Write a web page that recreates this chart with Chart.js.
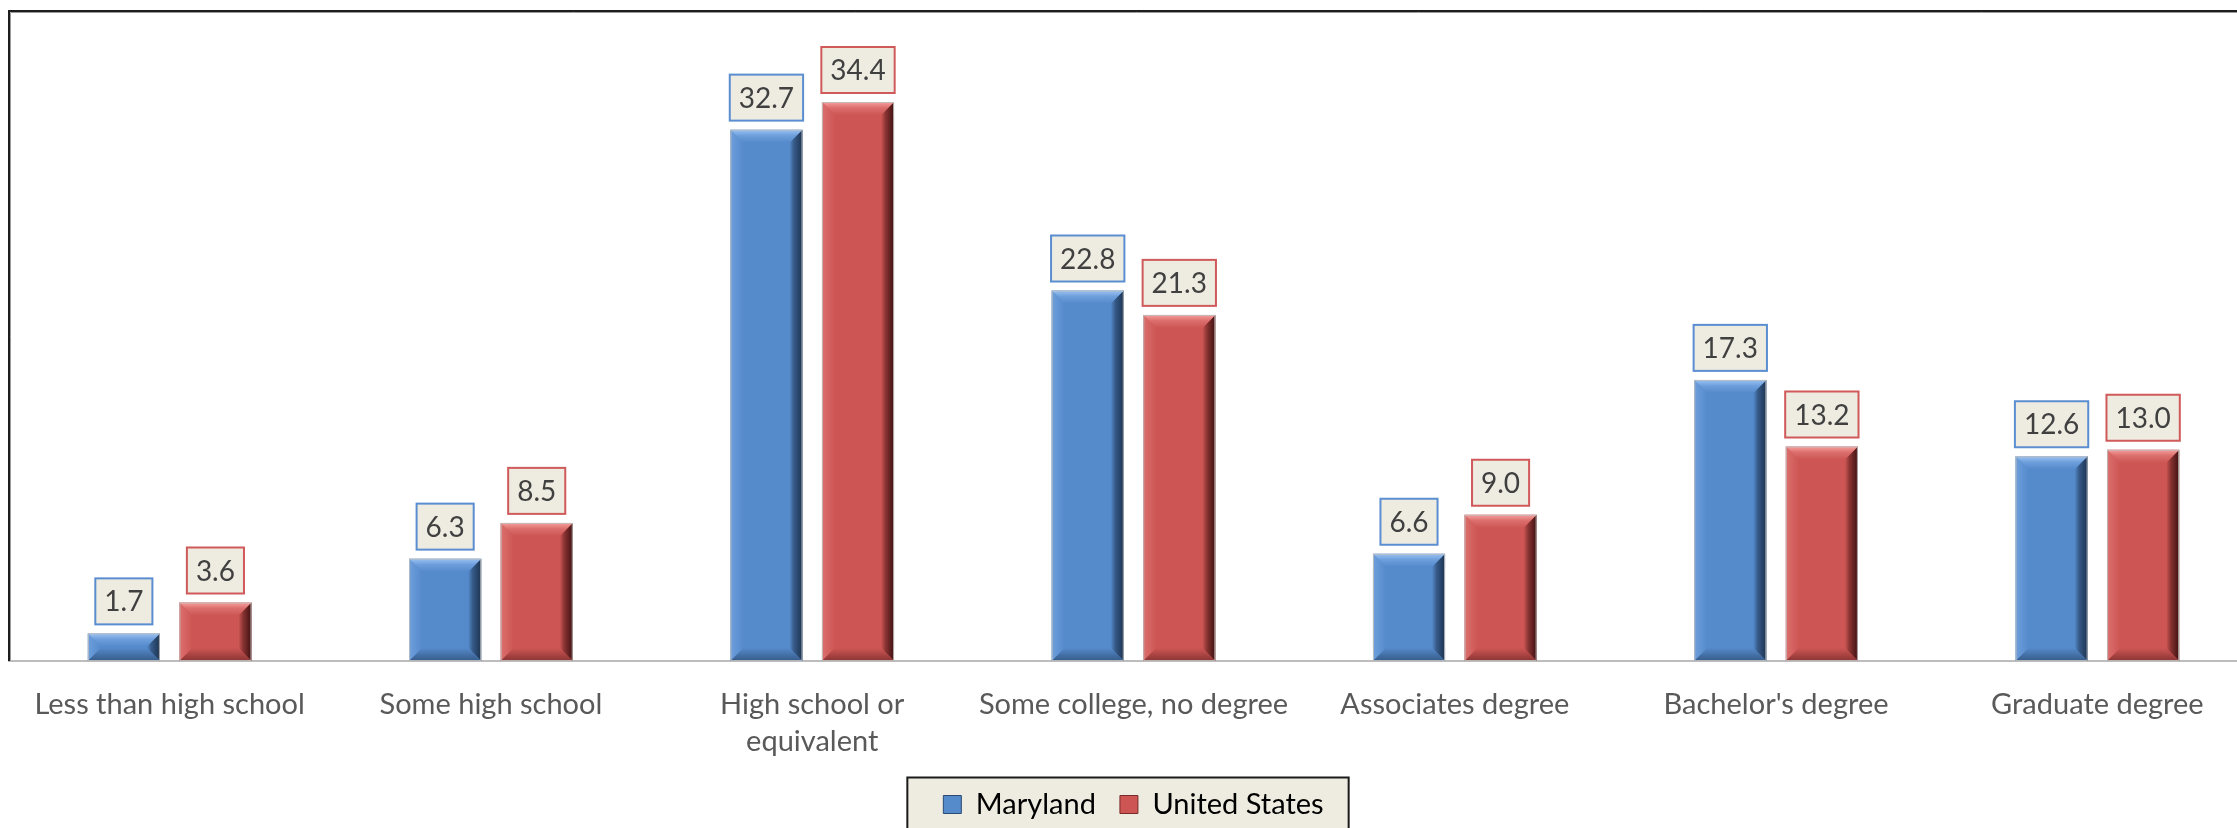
<!DOCTYPE html>
<html>
<head>
<meta charset="utf-8">
<script src="https://cdn.jsdelivr.net/npm/chart.js@4.4.1/dist/chart.umd.min.js"></script>
<style>
  html, body { margin: 0; padding: 0; background: #ffffff; overflow: hidden; width: 2237px; height: 828px; }
  #wrap { position: absolute; left: 0; top: 0; width: 2262px; height: 832px; }
  canvas { display: block; }
</style>
</head>
<body>
<div id="wrap"><canvas id="chart" width="2262" height="832" style="width:2262px;height:832px"></canvas></div>
<script>
// ---- data ----
const categories = [
  'Less than high school',
  'Some high school',
  ['High school or', 'equivalent'],
  'Some college, no degree',
  'Associates degree',
  "Bachelor's degree",
  'Graduate degree'
];
const seriesNames = ['Maryland', 'United States'];
const marylandValues = [1.7, 6.3, 32.7, 22.8, 6.6, 17.3, 12.6];
const unitedStatesValues = [3.6, 8.5, 34.4, 21.3, 9.0, 13.2, 13.0];
const yAxisMin = 0;
const yAxisMax = 40;

// ---- styles ----
const FONT = 'Lato, "Open Sans", sans-serif';
const palettes = [
  { base: '#558ACB', light: '#9CC3F2', mid: '#6E9FDC', dark: '#1C3350', bottom: '#365A88', label: '#5B8ED0', edge: '#2B4B74' },
  { base: '#CD5654', light: '#F7A09E', mid: '#DB6F6D', dark: '#3E1010', bottom: '#8A3433', label: '#D0595A', edge: '#7A2A2A' }
];

const framePlugin = {
  id: 'frame',
  beforeDatasetsDraw(chart) {
    const { ctx, chartArea: a } = chart;
    ctx.save();
    ctx.strokeStyle = '#1E1E1E';
    ctx.lineWidth = 2;
    ctx.beginPath();
    ctx.moveTo(a.left, a.bottom);
    ctx.lineTo(a.left, a.top);
    ctx.lineTo(chart.width + 5, a.top);
    ctx.stroke();
    ctx.strokeStyle = '#9A9A9A';
    ctx.lineWidth = 1;
    ctx.beginPath();
    ctx.moveTo(a.left + 1.5, a.bottom);
    ctx.lineTo(a.left + 1.5, a.top + 1.5);
    ctx.lineTo(chart.width + 5, a.top + 1.5);
    ctx.stroke();
    ctx.restore();
  }
};

const legendBoxPlugin = {
  id: 'legendBox',
  beforeDraw(chart) {
    const lg = chart.legend;
    if (!lg || !lg.legendHitBoxes || !lg.legendHitBoxes.length) return;
    const hb = lg.legendHitBoxes;
    const l = Math.min(...hb.map(h => h.left)) - 36;
    const r = Math.max(...hb.map(h => h.left + h.width)) + 25;
    const mid = hb[0].top + hb[0].height / 2;
    const t = mid - 27;
    const ctx = chart.ctx;
    ctx.save();
    ctx.fillStyle = '#EEECE1';
    ctx.strokeStyle = '#1A1A1A';
    ctx.lineWidth = 2;
    ctx.fillRect(l, t, r - l, chart.height - t + 10);
    ctx.strokeRect(l, t, r - l, chart.height - t + 10);
    ctx.restore();
  }
};

const bevelPlugin = {
  id: 'bevel',
  afterDatasetsDraw(chart) {
    const ctx = chart.ctx;
    chart.data.datasets.forEach((ds, di) => {
      const meta = chart.getDatasetMeta(di);
      const pal = palettes[di];
      meta.data.forEach(el => {
        const p = el.getProps(['x', 'y', 'base', 'width'], true);
        const l = p.x - p.width / 2, r = p.x + p.width / 2, t = p.y, b = p.base;
        const bv = Math.min(13, (b - t) / 2);
        ctx.save();
        // left
        let g = ctx.createLinearGradient(l, 0, l + bv, 0);
        g.addColorStop(0, pal.mid); g.addColorStop(1, pal.base);
        ctx.fillStyle = g;
        ctx.beginPath(); ctx.moveTo(l, t); ctx.lineTo(l + bv, t + bv); ctx.lineTo(l + bv, b - bv); ctx.lineTo(l, b); ctx.closePath(); ctx.fill();
        // right
        g = ctx.createLinearGradient(r - bv, 0, r, 0);
        g.addColorStop(0, pal.base); g.addColorStop(0.35, pal.bottom); g.addColorStop(1, pal.dark);
        ctx.fillStyle = g;
        ctx.beginPath(); ctx.moveTo(r, t); ctx.lineTo(r, b); ctx.lineTo(r - bv, b - bv); ctx.lineTo(r - bv, t + bv); ctx.closePath(); ctx.fill();
        // bottom
        g = ctx.createLinearGradient(0, b - bv, 0, b);
        g.addColorStop(0, pal.base); g.addColorStop(1, pal.bottom);
        ctx.fillStyle = g;
        ctx.beginPath(); ctx.moveTo(l, b); ctx.lineTo(r, b); ctx.lineTo(r - bv, b - bv); ctx.lineTo(l + bv, b - bv); ctx.closePath(); ctx.fill();
        // top
        g = ctx.createLinearGradient(0, t, 0, t + bv);
        g.addColorStop(0, pal.light); g.addColorStop(0.45, pal.mid); g.addColorStop(1, pal.base);
        ctx.fillStyle = g;
        ctx.beginPath(); ctx.moveTo(l, t); ctx.lineTo(r, t); ctx.lineTo(r - bv, t + bv); ctx.lineTo(l + bv, t + bv); ctx.closePath(); ctx.fill();
        // outline
        ctx.strokeStyle = 'rgba(190,190,190,0.9)';
        ctx.lineWidth = 1;
        ctx.strokeRect(l + 0.5, t + 0.5, p.width - 1, b - t - 1);
        ctx.restore();
      });
    });
  }
};

const valueLabelPlugin = {
  id: 'valueLabels',
  afterDatasetsDraw(chart) {
    const ctx = chart.ctx;
    ctx.save();
    ctx.font = '28px ' + FONT;
    ctx.textAlign = 'center';
    ctx.textBaseline = 'middle';
    chart.data.datasets.forEach((ds, di) => {
      const meta = chart.getDatasetMeta(di);
      meta.data.forEach((el, i) => {
        const txt = Number(ds.data[i]).toFixed(1);
        const tw = ctx.measureText(txt).width;
        const w = tw + 18, h = 46;
        const bottom = el.y - 9;
        const x0 = el.x - w / 2, y0 = bottom - h;
        ctx.fillStyle = '#EEECE1';
        ctx.fillRect(x0, y0, w, h);
        ctx.strokeStyle = palettes[di].label;
        ctx.lineWidth = 2;
        ctx.strokeRect(x0, y0, w, h);
        ctx.fillStyle = '#404040';
        ctx.fillText(txt, el.x, y0 + h / 2 + 1);
      });
    });
    ctx.restore();
  }
};

new Chart(document.getElementById('chart'), {
  type: 'bar',
  data: {
    labels: categories,
    datasets: [
      { label: seriesNames[0], data: marylandValues, backgroundColor: palettes[0].base, borderWidth: 0,
        categoryPercentage: 0.57, barPercentage: 0.787 },
      { label: seriesNames[1], data: unitedStatesValues, backgroundColor: palettes[1].base, borderWidth: 0,
        categoryPercentage: 0.57, barPercentage: 0.787 }
    ]
  },
  options: {
    responsive: false,
    animation: false,
    devicePixelRatio: 1,
    layout: { padding: { left: 9, right: 4, top: 11, bottom: 3 } },
    scales: {
      x: {
        grid: { display: false, drawTicks: false },
        border: { display: true, color: '#BDBDBD', width: 2 },
        ticks: { color: '#595959', font: { family: FONT, size: 29, lineHeight: 1.28 }, padding: 25, maxRotation: 0, autoSkip: false },
        afterFit(scale) { scale.height = 105; }
      },
      y: {
        display: false,
        min: yAxisMin,
        max: yAxisMax,
        grid: { display: false }
      }
    },
    plugins: {
      tooltip: { enabled: false },
      legend: {
        position: 'bottom',
        labels: {
          color: '#595959',
          font: { family: FONT, size: 29 },
          boxWidth: 18,
          boxHeight: 18,
          padding: 24,
          generateLabels(chart) {
            return chart.data.datasets.map((ds, i) => ({
              text: ds.label,
              fillStyle: palettes[i].base,
              strokeStyle: palettes[i].edge,
              lineWidth: 1,
              datasetIndex: i,
              hidden: false
            }));
          }
        }
      }
    }
  },
  plugins: [legendBoxPlugin, framePlugin, bevelPlugin, valueLabelPlugin]
});
</script>
</body>
</html>
